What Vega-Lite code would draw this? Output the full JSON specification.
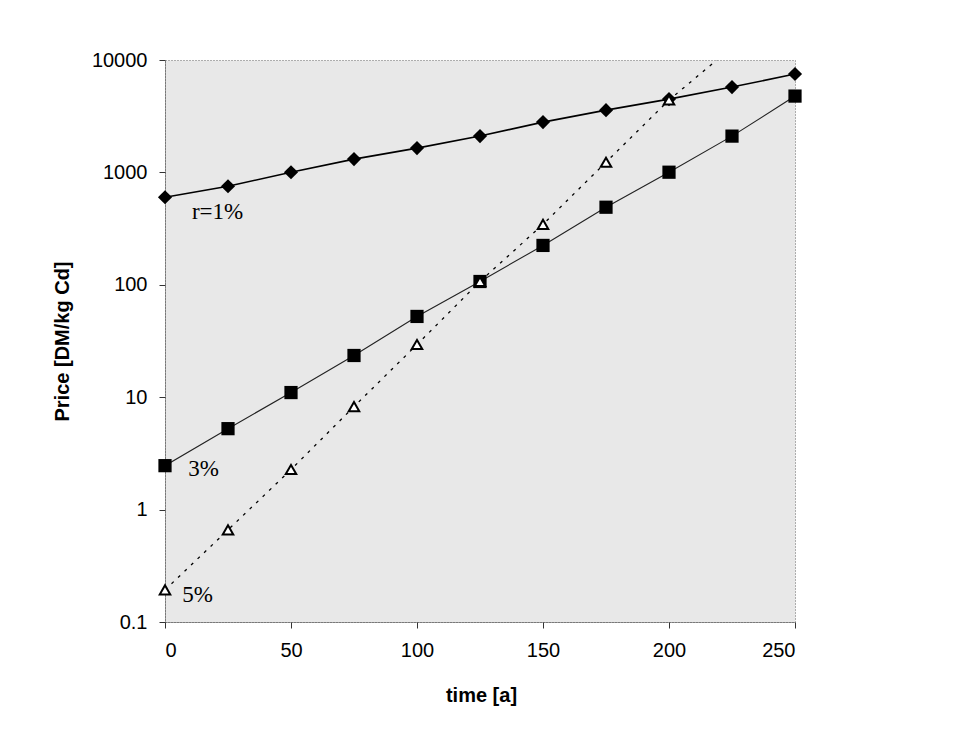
{
  "$schema": "https://vega.github.io/schema/vega-lite/v6.json",
  "width": 630,
  "height": 562,
  "autosize": {"type": "none"},
  "padding": {"left": 165, "top": 60, "right": 158, "bottom": 114},
  "background": "white",
  "config": {
    "view": {"fill": "#e8e8e8", "stroke": "#666666", "strokeDash": [1, 2], "strokeWidth": 1},
    "font": "Liberation Sans",
    "axis": {
      "grid": false,
      "domainColor": "#444444",
      "domainDash": [1, 1],
      "tickColor": "#333333",
      "tickSize": 6,
      "labelFont": "Liberation Sans",
      "labelFontSize": 20,
      "labelColor": "black",
      "titleFont": "Liberation Sans",
      "titleFontSize": 20,
      "titleFontWeight": "bold",
      "titleColor": "black"
    }
  },
  "datasets": {
    "pts": [
      {"series": "1%", "t": 0, "price": 601, "marker": true},
      {"series": "1%", "t": 25, "price": 753, "marker": true},
      {"series": "1%", "t": 50, "price": 1004, "marker": true},
      {"series": "1%", "t": 75, "price": 1313, "marker": true},
      {"series": "1%", "t": 100, "price": 1645, "marker": true},
      {"series": "1%", "t": 125, "price": 2104, "marker": true},
      {"series": "1%", "t": 150, "price": 2802, "marker": true},
      {"series": "1%", "t": 175, "price": 3579, "marker": true},
      {"series": "1%", "t": 200, "price": 4487, "marker": true},
      {"series": "1%", "t": 225, "price": 5744, "marker": true},
      {"series": "1%", "t": 250, "price": 7499, "marker": true},
      {"series": "3%", "t": 0, "price": 2.46, "marker": true},
      {"series": "3%", "t": 25, "price": 5.25, "marker": true},
      {"series": "3%", "t": 50, "price": 11.0, "marker": true},
      {"series": "3%", "t": 75, "price": 23.5, "marker": true},
      {"series": "3%", "t": 100, "price": 52.3, "marker": true},
      {"series": "3%", "t": 125, "price": 107, "marker": true},
      {"series": "3%", "t": 150, "price": 224, "marker": true},
      {"series": "3%", "t": 175, "price": 490, "marker": true},
      {"series": "3%", "t": 200, "price": 1004, "marker": true},
      {"series": "3%", "t": 225, "price": 2103, "marker": true},
      {"series": "3%", "t": 250, "price": 4775, "marker": true},
      {"series": "5%", "t": 0, "price": 0.193, "marker": true},
      {"series": "5%", "t": 25, "price": 0.66, "marker": true},
      {"series": "5%", "t": 50, "price": 2.27, "marker": true},
      {"series": "5%", "t": 75, "price": 8.25, "marker": true},
      {"series": "5%", "t": 100, "price": 29.4, "marker": true},
      {"series": "5%", "t": 125, "price": 107, "marker": true},
      {"series": "5%", "t": 150, "price": 345, "marker": true},
      {"series": "5%", "t": 175, "price": 1233, "marker": true},
      {"series": "5%", "t": 200, "price": 4400, "marker": true},
      {"series": "5%", "t": 219, "price": 10000, "marker": false}
    ],
    "labels": [
      {"label": "r=1%", "t": 10.7, "price": 445},
      {"label": "3%", "t": 9.2, "price": 2.31},
      {"label": "5%", "t": 6.8, "price": 0.174}
    ]
  },
  "encoding": {
    "x": {
      "field": "t",
      "type": "quantitative",
      "scale": {"domain": [0, 250], "nice": false, "zero": false},
      "axis": {"values": [0, 50, 100, 150, 200, 250], "title": "time [a]", "labelPadding": 12, "titleX": 316, "titleY": 73, "titleBaseline": "middle"}
    },
    "y": {
      "field": "price",
      "type": "quantitative",
      "scale": {"type": "log", "domain": [0.1, 10000], "nice": false},
      "axis": {"values": [0.1, 1, 10, 100, 1000, 10000], "format": "~g", "title": "Price [DM/kg Cd]", "labelPadding": 12, "titleX": -103, "titleY": 281, "titleAngle": -90, "titleBaseline": "middle"}
    }
  },
  "layer": [
    {
      "data": {"name": "pts"},
      "transform": [{"filter": "datum.series === '1%'"}],
      "mark": {"type": "line", "color": "black", "strokeWidth": 1.6, "clip": true}
    },
    {
      "data": {"name": "pts"},
      "transform": [{"filter": "datum.series === '3%'"}],
      "mark": {"type": "line", "color": "#222222", "strokeWidth": 1.1, "clip": true}
    },
    {
      "data": {"name": "pts"},
      "transform": [{"filter": "datum.series === '5%'"}],
      "mark": {"type": "line", "color": "black", "strokeWidth": 1.3, "strokeDash": [3, 6], "clip": true}
    },
    {
      "data": {"name": "pts"},
      "transform": [{"filter": "datum.series === '1%'"}],
      "mark": {"type": "point", "shape": "diamond", "filled": true, "color": "black", "size": 200, "opacity": 1}
    },
    {
      "data": {"name": "pts"},
      "transform": [{"filter": "datum.series === '3%'"}],
      "mark": {"type": "point", "shape": "square", "filled": true, "color": "black", "size": 175, "opacity": 1}
    },
    {
      "data": {"name": "pts"},
      "transform": [{"filter": "datum.series === '5%' && datum.marker"}],
      "mark": {"type": "point", "shape": "triangle-up", "filled": true, "fill": "white", "stroke": "black", "strokeWidth": 2, "size": 110, "opacity": 1}
    },
    {
      "data": {"name": "labels"},
      "mark": {"type": "text", "font": "Liberation Serif", "fontSize": 23, "align": "left", "baseline": "middle", "color": "black"},
      "encoding": {"text": {"field": "label"}}
    }
  ]
}
